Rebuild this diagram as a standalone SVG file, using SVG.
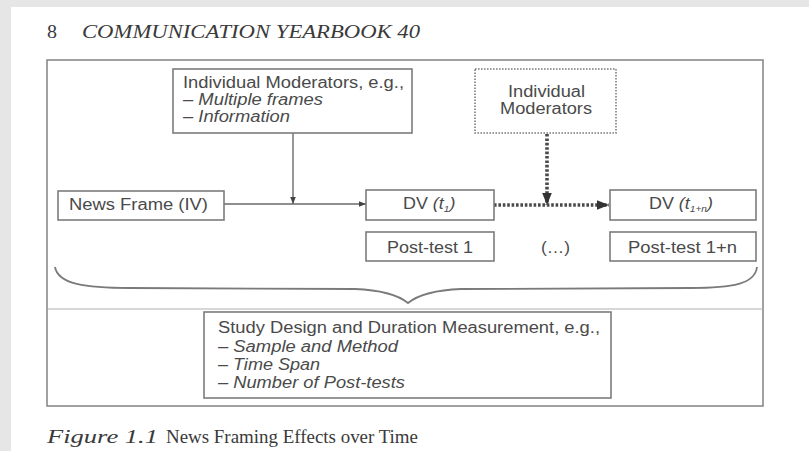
<svg xmlns="http://www.w3.org/2000/svg" width="809" height="451" viewBox="0 0 809 451">
<defs>
<style>
.box{fill:#fff;stroke:#7c7c7c;stroke-width:1.6}
.dot{fill:#fff;stroke:#7c7c7c;stroke-width:1.6;stroke-dasharray:1.6 1.4}
.t{font-family:"Liberation Sans",Arial,sans-serif;font-size:16px;fill:#4a4a4a}
.i{font-style:italic}
.s{font-family:"Liberation Serif","Times New Roman",serif;fill:#3a3a3a}
.ln{fill:none;stroke:#6a6a6a;stroke-width:1.4}
.dl{fill:none;stroke:#4a4a4a;stroke-width:3.6;stroke-dasharray:2.6 1.8}
</style>
<marker id="ah" viewBox="0 0 10 10" refX="10" refY="5" markerWidth="7" markerHeight="7" markerUnits="userSpaceOnUse" orient="auto">
<path d="M0,1 L10,5 L0,9 z" fill="#444"/>
</marker>
<marker id="ahb" viewBox="0 0 10 10" refX="10" refY="5" markerWidth="12" markerHeight="12" markerUnits="userSpaceOnUse" orient="auto">
<path d="M0,1 L10,5 L0,9 z" fill="#333"/>
</marker>
</defs>
<rect x="0" y="0" width="809" height="451" fill="#fff"/>
<rect x="0" y="0" width="809" height="7" fill="#e6e6e6"/>
<rect x="0" y="0" width="11" height="451" fill="#e6e6e6"/>

<g id="header">
<text class="s" x="47" y="38" font-size="18" textLength="10" lengthAdjust="spacingAndGlyphs">8</text>
<text class="s i" x="82" y="38" font-size="18" textLength="338" lengthAdjust="spacingAndGlyphs">COMMUNICATION YEARBOOK 40</text>
</g>

<g id="frame">
<rect x="47" y="60" width="716" height="346" fill="none" stroke="#8a8a8a" stroke-width="1.6"/>
<line x1="47" y1="309" x2="763" y2="309" stroke="#b0b0b0" stroke-width="1.2"/>
</g>

<g id="connectors">
<line class="ln" x1="224" y1="204" x2="366" y2="204" marker-end="url(#ah)"/>
<line class="ln" x1="293" y1="133" x2="293" y2="204" marker-end="url(#ah)"/>
<line class="dl" x1="494" y1="205" x2="609" y2="205" marker-end="url(#ahb)"/>
<line class="dl" x1="547" y1="134" x2="547" y2="205" marker-end="url(#ahb)"/>
<path d="M55,267 C58,284 85,288 130,288 L355,289 C382,290 398,295 408,303 C418,295 434,290 461,289 L690,288 C733,288 755,284 757,267" fill="none" stroke="#7a7a7a" stroke-width="1.8"/>
</g>

<g id="moderators">
<rect class="box" x="173" y="69" width="239" height="64"/>
<text class="t" x="183" y="88" textLength="221" lengthAdjust="spacingAndGlyphs">Individual Moderators, e.g.,</text>
<text class="t i" x="183" y="105" textLength="140" lengthAdjust="spacingAndGlyphs">– Multiple frames</text>
<text class="t i" x="183" y="122" textLength="107" lengthAdjust="spacingAndGlyphs">– Information</text>
</g>

<g id="moderators2">
<rect class="dot" x="475" y="69" width="141" height="64"/>
<text class="t" x="508" y="97" textLength="77" lengthAdjust="spacingAndGlyphs">Individual</text>
<text class="t" x="500" y="114" textLength="92" lengthAdjust="spacingAndGlyphs">Moderators</text>
</g>

<g id="newsframe">
<rect class="box" x="58" y="191" width="166" height="29"/>
<text class="t" x="69" y="210" textLength="139" lengthAdjust="spacingAndGlyphs">News Frame (IV)</text>
</g>

<g id="dv1">
<rect class="box" x="366" y="190" width="128" height="30"/>
<text class="t" transform="translate(403,209) scale(1.12,1)">DV <tspan class="i">(t</tspan><tspan class="i" font-size="9" dy="3">1</tspan><tspan class="i" dy="-3">)</tspan></text>
</g>

<g id="dv2">
<rect class="box" x="610" y="190" width="146" height="30"/>
<text class="t" transform="translate(649,209) scale(1.12,1)">DV <tspan class="i">(t</tspan><tspan class="i" font-size="9" dy="3">1+n</tspan><tspan class="i" dy="-3">)</tspan></text>
</g>

<g id="post1">
<rect class="box" x="366" y="232" width="128" height="29"/>
<text class="t" x="387" y="253" textLength="86" lengthAdjust="spacingAndGlyphs">Post-test 1</text>
</g>

<g id="ellipsis">
<text class="t" x="541" y="253" textLength="29" lengthAdjust="spacingAndGlyphs">(…)</text>
</g>

<g id="post2">
<rect class="box" x="610" y="232" width="146" height="29"/>
<text class="t" x="628" y="253" textLength="109" lengthAdjust="spacingAndGlyphs">Post-test 1+n</text>
</g>

<g id="study">
<rect class="box" x="204" y="312" width="407" height="86"/>
<text class="t" x="218" y="333" textLength="382" lengthAdjust="spacingAndGlyphs">Study Design and Duration Measurement, e.g.,</text>
<text class="t i" x="218" y="352" textLength="180" lengthAdjust="spacingAndGlyphs">– Sample and Method</text>
<text class="t i" x="218" y="370" textLength="102" lengthAdjust="spacingAndGlyphs">– Time Span</text>
<text class="t i" x="218" y="388" textLength="187" lengthAdjust="spacingAndGlyphs">– Number of Post-tests</text>
</g>

<g id="caption">
<text class="s i" x="47" y="443" font-size="18" textLength="111" lengthAdjust="spacingAndGlyphs">Figure 1.1</text>
<text class="s" x="166" y="443" font-size="18" textLength="252" lengthAdjust="spacingAndGlyphs">News Framing Effects over Time</text>
</g>
</svg>
